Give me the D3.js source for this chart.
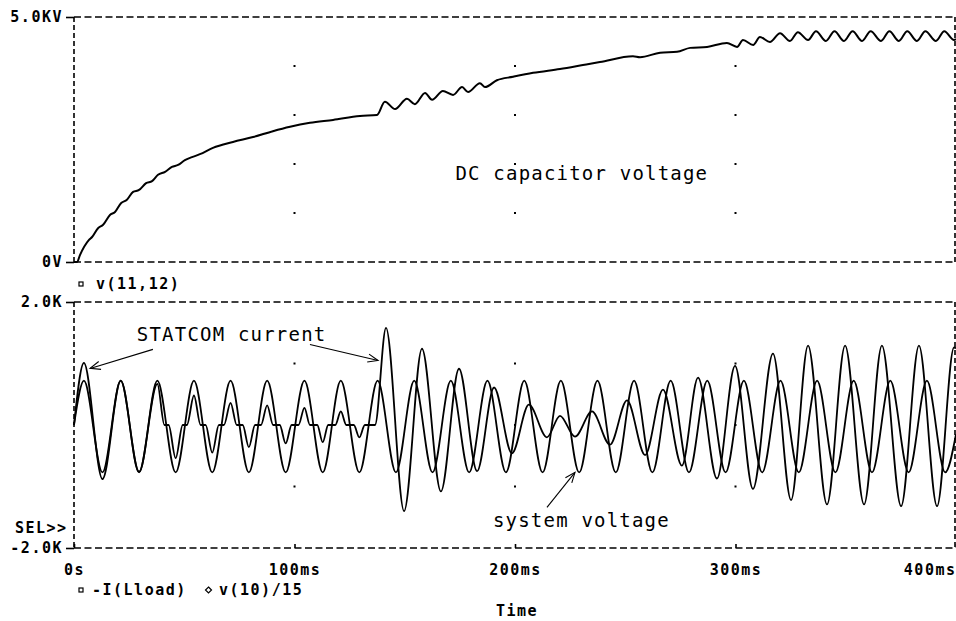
<!DOCTYPE html>
<meta charset="utf-8">
<script src="https://d3js.org/d3.v7.min.js"></script>
<style>
  body { margin: 0; background: #fff; }
  .lbl { font-family: "DejaVu Sans Mono", monospace; font-weight: bold; font-size: 15px; letter-spacing: 1.5px; }
  .note { font-family: "DejaVu Sans Mono", monospace; font-size: 19px; letter-spacing: 1.2px; }
</style>
<div id="plot"></div>
<script>

// DC capacitor voltage v(11,12): time (ms) and value (kV)
const dcT = [0, 1.4, 2.7, 6.8, 8.2, 10.9, 13.2, 16.3, 18.6, 21.3, 24.0, 26.8, 29.5, 32.7, 35.4, 38.1, 41.3, 44.4, 47.2, 50.3,
  53.5, 57.1, 63.0, 72.1, 81.2, 90.2, 98.0, 107.0, 117.5, 129.7, 137.4, 141.0, 145.6, 151.0, 154.6, 159.2, 162.4, 167.3, 171.9, 176.0,
  178.7, 184.1, 186.4, 191.8, 199.1, 208.2, 220.4, 230.8, 238.5, 253.5, 256.7, 265.8, 273.5, 279.4, 287.1, 296.1, 300.7, 303.4, 308.0, 311.1,
  315.6, 320.2, 324.7, 328.3, 332.9, 336.5, 341.0, 344.9, 349.2, 353.1, 357.4, 361.3, 366.0, 369.8, 374.1, 377.9, 382.3, 386.1, 390.9, 394.7,
  399.1, 400];
const dcV = [0, 0, 0.14, 0.45, 0.51, 0.69, 0.76, 0.96, 1.02, 1.20, 1.27, 1.43, 1.47, 1.61, 1.65, 1.78, 1.84, 1.94, 1.98, 2.08,
  2.14, 2.20, 2.33, 2.45, 2.55, 2.67, 2.76, 2.84, 2.90, 2.98, 3.00, 3.27, 3.12, 3.33, 3.22, 3.45, 3.31, 3.49, 3.41, 3.57,
  3.47, 3.65, 3.57, 3.71, 3.78, 3.86, 3.94, 4.02, 4.08, 4.20, 4.18, 4.27, 4.29, 4.37, 4.39, 4.47, 4.39, 4.53, 4.43, 4.59,
  4.49, 4.67, 4.51, 4.69, 4.53, 4.71, 4.51, 4.71, 4.51, 4.71, 4.51, 4.71, 4.51, 4.71, 4.51, 4.71, 4.51, 4.71, 4.51, 4.71,
  4.53, 4.55];

// STATCOM current -I(Lload): time (ms) and value (kA-scale, K)
const curT = [0, 4.5, 12.9, 21.2, 29.5, 37.8, 41.0, 42.9, 46.1, 49.3, 51.2, 54.4, 57.4, 59.7, 62.7, 65.7, 68.0, 71.0, 73.8, 76.5,
  79.3, 82.1, 84.8, 87.6, 90.3, 93.3, 96.0, 98.7, 101.8, 104.5, 107.0, 110.3, 112.8, 115.3, 118.5, 121.0, 123.5, 126.9, 129.4, 131.9,
  136.5, 141.5, 149.7, 157.8, 166.4, 174.6, 182.8, 190.5, 198.6, 206.3, 214.5, 220.4, 227.2, 234.9, 243.1, 250.8, 259.0, 267.1, 275.7, 283.0,
  291.6, 299.8, 307.9, 317.0, 325.2, 332.9, 341.5, 349.7, 358.3, 366.4, 375.1, 383.2, 391.4, 399.1, 400];
const curV = [0, 1.01, -0.88, 0.72, -0.76, 0.67, 0, 0, -0.54, 0, 0, 0.48, 0, 0, -0.45, 0, 0, 0.36, 0, 0,
  -0.36, 0, 0, 0.32, 0, 0, -0.30, 0, 0, 0.28, 0, 0, -0.28, 0, 0, 0.22, 0, 0, -0.20, 0,
  0, 1.58, -1.40, 1.24, -1.08, 0.915, -0.75, 0.61, -0.46, 0.33, -0.20, 0.15, -0.19, 0.22, -0.32, 0.40, -0.49, 0.575, -0.66, 0.77,
  -0.87, 0.96, -1.04, 1.16, -1.22, 1.29, -1.29, 1.29, -1.29, 1.29, -1.32, 1.29, -1.32, 1.26, 1.25];

// system voltage v(10)/15: peaks and troughs
const volT = [0, 4.5, 12.9, 21.2, 29.5, 37.8, 46.1, 54.4, 62.7, 71.0, 79.3, 87.6, 96.0, 104.5, 112.8, 121.0, 129.4, 137.7, 146.0, 154.3, 162.6,
  170.9, 179.2, 187.5, 195.9, 204.2, 212.5, 220.8, 229.1, 237.4, 245.7, 254.0, 262.3, 270.6, 278.9, 287.2, 295.5, 303.8, 312.1, 320.4, 328.7,
  337.0, 345.3, 353.6, 361.9, 370.2, 378.5, 386.8, 395.1, 400];
const volV = [0, 0.72, -0.77, 0.72, -0.77, 0.72, -0.77, 0.72, -0.77, 0.72, -0.77, 0.72, -0.77, 0.72, -0.77, 0.72, -0.77, 0.72, -0.77, 0.72, -0.77,
  0.72, -0.77, 0.72, -0.77, 0.72, -0.77, 0.72, -0.77, 0.72, -0.77, 0.72, -0.77, 0.72, -0.77, 0.72, -0.77, 0.72, -0.77, 0.72, -0.77,
  0.72, -0.77, 0.72, -0.77, 0.72, -0.77, 0.72, -0.77, -0.15];

// tick labels
const xTicks = [0, 100, 200, 300, 400];
const xTickLabels = ["0s", "100ms", "200ms", "300ms", "400ms"];
const topTicks = [0, 5];
const topTickLabels = ["0V", "5.0KV"];
const botTicks = [-2, 2];
const botTickLabels = ["-2.0K", "2.0K"];

const width = 956, height = 621;

const svg = d3.select("#plot")
  .append("svg")
    .attr("width", width)
    .attr("height", height)
    .style("background", "#fff");

const x = d3.scaleLinear().domain([0, 400]).range([74, 956]);
const yTop = d3.scaleLinear().domain([0, 5]).range([262, 17]);
const yBot = d3.scaleLinear().domain([-2, 2]).range([548, 302]);

// dashed frames around both plots
function frame(y) {
  const [y0, y1] = y.range();
  const x0 = 74, x1 = 955;
  const g = svg.append("g")
    .attr("fill", "none").attr("stroke", "#000")
    .attr("stroke-width", 1.6).attr("stroke-dasharray", "7,3.5");
  g.append("line").attr("x1", x0).attr("x2", x1).attr("y1", y1).attr("y2", y1);
  g.append("line").attr("x1", x0).attr("x2", x1).attr("y1", y0).attr("y2", y0);
  g.append("line").attr("x1", x0).attr("x2", x0).attr("y1", y1).attr("y2", y0).attr("stroke-dasharray", "5,3");
  g.append("line").attr("x1", x1).attr("x2", x1).attr("y1", y1).attr("y2", y0).attr("stroke-dasharray", "5,3");
}
frame(yTop);
frame(yBot);

// grid dots
const gridX = [100, 200, 300];
function dots(y, vals) {
  svg.append("g").selectAll("rect")
    .data(d3.cross(gridX, vals))
    .join("rect")
      .attr("x", d => x(d[0]) - 1)
      .attr("y", d => y(d[1]) - 1)
      .attr("width", 2).attr("height", 2)
      .attr("fill", "#000");
}
dots(yTop, [1, 2, 3, 4]);
dots(yBot, [-1, 0, 1]);

// left axes
function leftAxis(y, vals, labels) {
  const g = svg.append("g")
    .attr("transform", "translate(74,0)")
    .call(d3.axisLeft(y).tickValues(vals).tickSize(8).tickPadding(3)
      .tickFormat((d, i) => labels[i]));
  g.select(".domain").remove();
  g.selectAll("line").attr("stroke-width", 1.6);
  g.selectAll("text").attr("class", "lbl").attr("fill", "#000");
}
leftAxis(yTop, topTicks, topTickLabels);
leftAxis(yBot, botTicks, botTickLabels);

// bottom time axis
const xg = svg.append("g")
  .attr("transform", "translate(0,548)")
  .call(d3.axisBottom(x).tickValues(xTicks).tickSize(-4)
    .tickFormat((d, i) => xTickLabels[i]));
xg.select(".domain").remove();
xg.selectAll("line").attr("stroke-width", 1.6);
xg.selectAll("text")
  .attr("class", "lbl").attr("fill", "#000")
  .attr("y", 27).attr("dy", 0)
  .attr("text-anchor", d => d === 400 ? "end" : "middle");

// curves
const lineTop = d3.line().x(d => x(d[0])).y(d => yTop(d[1])).curve(d3.curveMonotoneX);
const lineBot = d3.line().x(d => x(d[0])).y(d => yBot(d[1])).curve(d3.curveMonotoneX);

svg.append("path").datum(d3.zip(dcT, dcV))
  .attr("d", lineTop).attr("fill", "none").attr("stroke", "#000").attr("stroke-width", 2);
svg.append("path").datum(d3.zip(volT, volV))
  .attr("d", lineBot).attr("fill", "none").attr("stroke", "#000").attr("stroke-width", 1.8);
svg.append("path").datum(d3.zip(curT, curV))
  .attr("d", lineBot).attr("fill", "none").attr("stroke", "#000").attr("stroke-width", 1.8);

// legends and labels
svg.append("rect").attr("x", 79).attr("y", 282).attr("width", 4).attr("height", 4)
  .attr("fill", "none").attr("stroke", "#000").attr("stroke-width", 1.2);
svg.append("text").attr("class", "lbl").attr("x", 96).attr("y", 289).text("v(11,12)");

svg.append("rect").attr("x", 79).attr("y", 588).attr("width", 4).attr("height", 4)
  .attr("fill", "none").attr("stroke", "#000").attr("stroke-width", 1.2);
svg.append("text").attr("class", "lbl").attr("x", 92).attr("y", 595).text("-I(Lload)");
svg.append("path").attr("d", "M208.5,587 L211.5,590 L208.5,593 L205.5,590 Z")
  .attr("fill", "none").attr("stroke", "#000").attr("stroke-width", 1.2);
svg.append("text").attr("class", "lbl").attr("x", 219).attr("y", 595).text("v(10)/15");

svg.append("text").attr("class", "lbl").attr("x", 15).attr("y", 533).text("SEL>>");
svg.append("text").attr("class", "lbl").attr("x", 496).attr("y", 616).text("Time");

// annotations
svg.append("text").attr("class", "note").attr("x", x(173)).attr("y", yTop(1.67)).text("DC capacitor voltage");
svg.append("text").attr("class", "note").attr("x", x(28.5)).attr("y", yBot(1.37)).text("STATCOM current");
svg.append("text").attr("class", "note").attr("x", x(190)).attr("y", yBot(-1.66)).text("system voltage");

function arrow(t0, v0, t1, v1) {
  const x0 = x(t0), y0 = yBot(v0), x1 = x(t1), y1 = yBot(v1);
  const a = Math.atan2(y0 - y1, x0 - x1), len = 11, spread = 0.38;
  const g = svg.append("g").attr("stroke", "#000").attr("stroke-width", 1.1).attr("fill", "none");
  g.append("line").attr("x1", x0).attr("y1", y0).attr("x2", x1).attr("y2", y1);
  g.append("polyline").attr("points", [
    [x1 + len * Math.cos(a - spread), y1 + len * Math.sin(a - spread)],
    [x1, y1],
    [x1 + len * Math.cos(a + spread), y1 + len * Math.sin(a + spread)]
  ].map(p => p.join(",")).join(" "));
}
arrow(35.8, 1.23, 7.3, 0.92);
arrow(107, 1.31, 137.9, 1.05);
arrow(214.5, -1.34, 227.2, -0.77);

</script>
